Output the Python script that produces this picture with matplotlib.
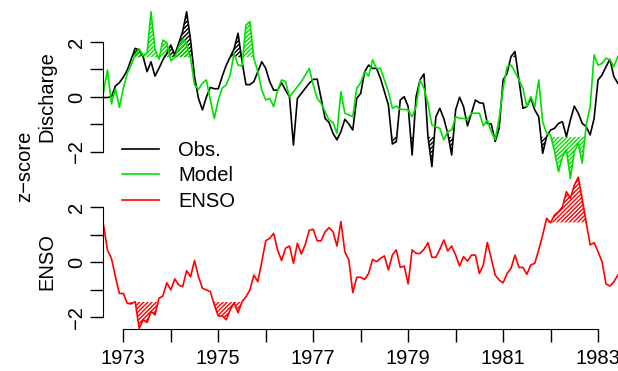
import numpy as np
import matplotlib
matplotlib.use("Agg")
import matplotlib.pyplot as plt

plt.rcParams["font.family"] = ["Liberation Sans", "DejaVu Sans"]
plt.rcParams["hatch.linewidth"] = 1.0

# monthly series, Aug 1972 -> Jun 1983 (z-scores)
START_YEAR, START_MONTH = 1972, 8

obs = [-0.02, -0.02, 0.01, 0.40, 0.52, 0.72, 0.98, 1.37, 1.77, 1.71,
       1.47, 0.92, 1.28, 0.76, 1.04, 1.35, 1.59, 1.89, 1.53, 1.95,
       2.38, 3.10, 2.07, 0.74, -0.05, -0.47, 0.00, 0.35, 0.30, 0.30,
       0.75, 1.15, 1.45, 1.75, 2.32, 1.30, 0.45, 0.45, 0.56, 0.92,
       1.28, 1.04, 0.56, 0.25, 0.25, 0.52, 0.25, 0.01, -1.75, -0.05,
       0.13, 0.32, 0.50, 0.64, 0.65, -0.05, -0.78, -0.93, -1.32, -1.56,
       -1.26, -0.81, -0.98, -1.20, -0.05, 0.13, 0.92, 1.16, 1.04, 1.04,
       0.68, 0.19, -0.29, -1.71, -1.62, -0.11, 0.01, -0.35, -2.11, 0.01,
       0.62, 0.84, -1.44, -2.53, -0.72, -0.41, -0.78, -1.32, -2.11, -0.47,
       -0.01, -0.35, -1.05, -0.59, -0.11, -0.21, -0.23, -0.96, -0.98, -1.62,
       -1.14, 0.62, 0.86, 1.47, 1.65, 0.62, -0.41, -0.35, -0.05, -0.47,
       -0.72, -2.05, -1.44, -1.20, -1.14, -0.96, -0.90, -1.44, -0.84, -0.33,
       -0.59, -0.96, -1.08, -1.38, -0.78, 0.62, 0.80, 1.10, 1.37, 0.74,
       0.50]

model = [0.19, 0.98, -0.25, 0.30, -0.38, 0.32, 0.86, 1.16, 1.55, 1.75,
         1.50, 1.60, 3.10, 1.75, 1.37, 2.07, 1.98, 1.32, 1.44, 1.83,
         2.10, 1.95, 1.41, 0.44, 0.28, 0.50, 0.62, -0.11, -0.78, -0.11,
         0.32, 0.44, 0.80, 1.59, 1.16, 1.13, 2.62, 2.74, 1.41, 0.92,
         0.25, -0.11, -0.05, -0.35, 0.25, 0.62, 0.56, 0.01, 0.19, 0.38,
         0.56, 0.80, 1.04, 0.44, -0.05, -0.23, -0.53, -0.84, -0.93, -1.32,
         0.19, -0.59, -0.65, -0.72, 0.32, 0.52, 0.92, 0.76, 1.35, 1.04,
         1.04, 0.62, 0.19, -0.41, -0.33, -0.45, -0.45, -0.47, -0.72, -0.35,
         0.62, 0.32, -0.23, -1.02, -1.08, -1.14, -1.56, -1.26, -1.20, -0.72,
         -0.78, -0.78, -0.81, -0.59, -0.59, -0.59, -1.05, -0.84, -1.26, -1.55,
         -0.78, 0.32, 1.10, 1.16, 0.92, 0.62, 0.32, -0.35, 0.01, -0.35,
         0.62, -0.90, -1.32, -1.38, -1.99, -2.72, -2.17, -1.93, -2.96, -1.99,
         -1.68, -2.41, -1.02, -0.35, 1.53, 1.16, 1.22, 1.41, 1.35, 1.10,
         1.47]

enso = [1.35, 0.44, 0.14, -0.53, -1.14, -1.14, -1.50, -1.52, -1.44, -2.41,
        -2.10, -2.20, -1.80, -1.92, -1.32, -1.23, -0.75, -1.01, -0.61, -0.83,
        -0.89, -0.31, -0.53, 0.06, -0.53, -0.95, -1.01, -1.07, -1.56, -1.96,
        -1.96, -2.10, -1.74, -1.48, -1.84, -1.44, -1.26, -1.01, -0.47, -0.71,
        0.02, 0.78, 0.87, 1.05, 0.44, 0.06, 0.51, 0.59, -0.04, 0.69,
        0.30, 0.65, 1.17, 1.20, 0.78, 0.78, 1.11, 1.26, 1.11, 0.59,
        1.48, 0.38, 0.08, -1.11, -0.55, -0.55, -0.63, -0.41, 0.10, 0.02,
        0.14, 0.23, -0.28, 0.26, 0.45, -0.19, -0.14, -0.79, 0.45, 0.32,
        0.32, 0.47, 0.71, 0.18, 0.18, 0.47, 0.81, 0.41, 0.59, 0.26,
        -0.14, 0.20, 0.04, 0.26, 0.26, -0.41, -0.10, 0.72, 0.14, -0.47,
        -0.65, -0.75, -0.41, -0.22, 0.26, -0.19, -0.19, -0.44, -0.10, -0.04,
        0.45, 0.99, 1.60, 1.44, 1.72, 1.84, 2.02, 2.57, 2.33, 2.81,
        3.10, 2.30, 1.45, 0.63, 0.71, 0.38, 0.02, -0.79, -0.87, -0.71,
        -0.47]

THR = 1.45                      # shading threshold (+/-)
YEARS = list(range(1973, 1984))
YTICKS = [-2, -1, 0, 1, 2]

BLACK, GREEN, RED = "black", "#00e000", "#ff0000"
FS = 14.5
W, H = 618, 371

t = START_YEAR + (START_MONTH - 1) / 12 + np.arange(len(obs)) / 12
obs, model, enso = np.array(obs), np.array(model), np.array(enso)


def shade(ax, y, col):
    for sign in (1, -1):
        ax.fill_between(t, sign * THR, y, where=sign * y > THR, interpolate=True,
                        facecolor="none", edgecolor=col, hatch="/" * 8, linewidth=0)


def style(ax, show_x):
    ax.patch.set_alpha(0)
    ax.spines[["top", "right"]].set_visible(False)
    ax.spines["left"].set_bounds(-2, 2)
    ax.set_yticks(YTICKS)
    ax.set_yticklabels(["\u22122", "", "0", "", "2"])
    ax.tick_params(length=9.1, width=1, labelsize=FS, pad=3)
    for lab in ax.get_yticklabels():
        lab.set_rotation(90)
        lab.set_va("center")
    if show_x:
        ax.spines["bottom"].set_bounds(YEARS[0], YEARS[-1])
        ax.set_xticks(YEARS)
        ax.set_xticklabels([str(y) if y % 2 else "" for y in YEARS])
        ax.tick_params(axis="x", pad=5)
    else:
        ax.spines["bottom"].set_visible(False)
        ax.set_xticks([])


fig = plt.figure(figsize=(W / 100, H / 100), dpi=100)
fig.patch.set_facecolor("white")

xlim = (1972.572, 1983.42)
top = fig.add_axes([103 / W, 1 - 190 / H, 515 / W, 190 / H])
bot = fig.add_axes([103 / W, 1 - 329.3 / H, 515 / W, (329.3 - 170) / H])

l_obs, = top.plot(t, obs, color=BLACK, lw=1.2)
l_mod, = top.plot(t, model, color=GREEN, lw=1.2)
shade(top, obs, BLACK)
shade(top, model, GREEN)
top.set_xlim(xlim); top.set_ylim(-3.382, 3.527)
style(top, False)

l_enso, = bot.plot(t, enso, color=RED, lw=1.2)
shade(bot, enso, RED)
bot.set_xlim(xlim); bot.set_ylim(-2.446, 3.361)
style(bot, True)

fig.text(47 / W, 1 - 97 / H, "Discharge", rotation=90, ha="center", va="center", fontsize=FS)
fig.text(47 / W, 1 - 262 / H, "ENSO", rotation=90, ha="center", va="center", fontsize=FS)
fig.text(25 / W, 1 - 166 / H, "z\u2212score", rotation=90, ha="center", va="center", fontsize=FS)

fig.legend([l_obs, l_mod, l_enso], ["Obs.", "Model", "ENSO"], loc="upper left",
           bbox_to_anchor=(122 / W, 1 - 141 / H), frameon=False, borderpad=0,
           borderaxespad=0, handlelength=1.85, handletextpad=0.95,
           labelspacing=0.32, fontsize=FS)

fig.savefig("out.png", dpi=100, facecolor="white")
